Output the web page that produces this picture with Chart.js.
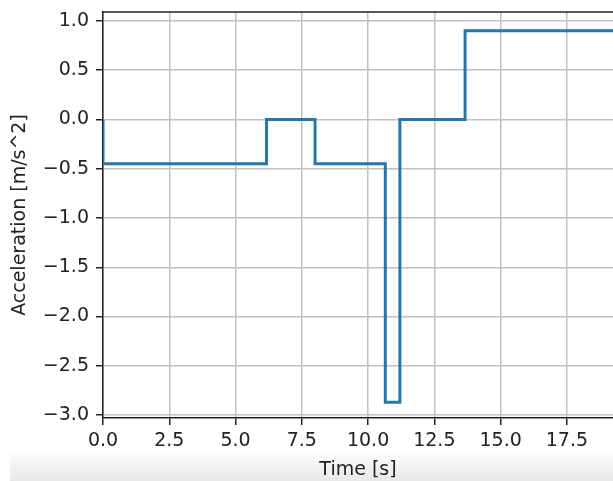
<!DOCTYPE html>
<html>
<head>
<meta charset="utf-8">
<script src="https://cdn.jsdelivr.net/npm/chart.js@4/dist/chart.umd.min.js"></script>
<style>
  html, body { margin: 0; padding: 0; background: #fff; }
  canvas { display: block; }
</style>
</head>
<body>
<canvas id="accelChart" width="613" height="481"></canvas>
<script>
// step profile: each value holds from its time until the next one
const times = [0, 0, 6.17, 8.0, 10.65, 11.2, 13.66, 19.3];
const accel = [0, -0.45, 0, -0.45, -2.87, 0, 0.9, 0.9];
const xTicks = [0, 2.5, 5, 7.5, 10, 12.5, 15, 17.5];
const yTicks = [-3, -2.5, -2, -1.5, -1, -0.5, 0, 0.5, 1];

const FONT = "'DejaVu Sans', sans-serif";
const fmt = v => (v < 0 ? "\u2212" : "") + Math.abs(v).toFixed(1);

// top spine + the grey fade at the bottom of the screenshot
const frame = {
  id: "frame",
  beforeDraw(chart) {
    const c = chart.ctx;
    const g = c.createLinearGradient(0, 448, 0, 481);
    g.addColorStop(0, "rgba(235,235,235,0)");
    g.addColorStop(1, "rgba(232,232,232,1)");
    c.save();
    c.fillStyle = g;
    c.fillRect(10, 448, chart.width - 10, 33);
    c.restore();
  },
  afterDraw(chart) {
    const a = chart.chartArea;
    const c = chart.ctx;
    c.save();
    c.strokeStyle = "#222";
    c.lineWidth = 1.5;
    c.beginPath();
    c.moveTo(a.left, a.top);
    c.lineTo(a.right, a.top);
    c.stroke();
    c.restore();
  }
};

new Chart(document.getElementById("accelChart"), {
  type: "line",
  data: {
    datasets: [{
      data: times.map((t, i) => ({ x: t, y: accel[i] })),
      stepped: "before",
      borderColor: "#1f77b4",
      borderWidth: 3,
      pointRadius: 0,
      fill: false,
    }],
  },
  options: {
    responsive: false,
    animation: false,
    layout: { padding: { top: 12, right: 0, bottom: 0, left: 0 } },
    plugins: { legend: { display: false }, tooltip: { enabled: false } },
    scales: {
      x: {
        type: "linear",
        min: 0,
        max: 19.24,
        afterBuildTicks: s => { s.ticks = xTicks.map(v => ({ value: v })); },
        afterFit: s => { s.height = 63; s.paddingLeft = 0; s.paddingRight = 0; },
        grid: { color: "#c0c0c0", lineWidth: 1.5, tickLength: 7, tickColor: "#222", tickWidth: 1.5 },
        border: { color: "#222", width: 1.5 },
        ticks: { color: "#222", padding: 5, maxRotation: 0, font: { family: FONT, size: 19 }, callback: fmt },
        title: { display: true, text: "Time [s]", color: "#222", padding: { top: 0, bottom: 0 }, font: { family: FONT, size: 19 } },
      },
      y: {
        min: -3.03,
        max: 1.091,
        afterBuildTicks: s => { s.ticks = yTicks.map(v => ({ value: v })); },
        afterFit: s => { s.width = 103; s.paddingTop = 0; s.paddingBottom = 0; },
        grid: { color: "#c0c0c0", lineWidth: 1.5, tickLength: 7, tickColor: "#222", tickWidth: 1.5 },
        border: { color: "#222", width: 1.5 },
        ticks: { color: "#222", padding: 7, font: { family: FONT, size: 19 }, callback: fmt },
        title: { display: true, text: "Acceleration [m/s^2]", color: "#222", padding: { top: 9, bottom: 0 }, font: { family: FONT, size: 19 } },
      },
    },
  },
  plugins: [frame],
});
</script>
</body>
</html>
